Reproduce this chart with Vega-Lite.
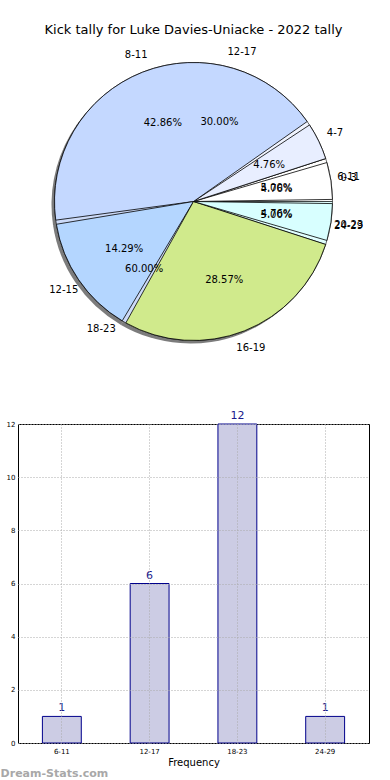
{
  "$schema": "https://vega.github.io/schema/vega-lite/v6.json",
  "padding": {"left": -11, "right": 0, "top": 24, "bottom": 0},
  "bounds": "flush",
  "spacing": 72,
  "background": "white",
  "config": {"font": "DejaVu Sans", "view": {"stroke": null}},
  "title": {"text": "Dream-Stats.com", "orient": "bottom", "anchor": "start", "color": "#a8a8a8", "fontSize": 11, "fontWeight": "bold", "offset": 0, "dx": 11},
  "datasets": {
    "pie1": [
      {"label": "0-3", "pct": 4.76, "k": 1, "txt": "4.76%"},
      {"label": "4-7", "pct": 4.76, "k": 2, "txt": "4.76%"},
      {"label": "8-11", "pct": 42.86, "k": 3, "txt": "42.86%"},
      {"label": "12-15", "pct": 14.29, "k": 4, "txt": "14.29%"},
      {"label": "16-19", "pct": 28.57, "k": 5, "txt": "28.57%"},
      {"label": "20-23", "pct": 4.76, "k": 6, "txt": "4.76%"}
    ],
    "pie2": [
      {"label": "6-11", "pct": 5.0, "k": 1, "txt": "5.00%"},
      {"label": "12-17", "pct": 30.0, "k": 2, "txt": "30.00%"},
      {"label": "18-23", "pct": 60.0, "k": 3, "txt": "60.00%"},
      {"label": "24-29", "pct": 5.0, "k": 4, "txt": "5.00%"}
    ],
    "bars": [
      {"interval": "6-11", "count": 1},
      {"interval": "12-17", "count": 6},
      {"interval": "18-23", "count": 12},
      {"interval": "24-29", "count": 1}
    ]
  },
  "vconcat": [
    {
      "width": 351,
      "height": 301,
      "title": {"text": "Kick tally for Luke Davies-Uniacke - 2022 tally", "fontSize": 13, "fontWeight": "normal", "offset": 10, "anchor": "middle", "color": "#000"},
      "view": {"stroke": null},
      "encoding": {
        "theta": {"field": "pct", "type": "quantitative", "stack": true, "scale": {"range": [1.5708, -4.7124]}},
        "order": {"field": "k", "type": "quantitative", "sort": "ascending"}
      },
      "layer": [
        {
          "data": {"name": "pie1"},
          "mark": {"type": "arc", "radius": 139, "fill": "#444", "opacity": 0.7, "xOffset": -3, "yOffset": 3}
        },
        {
          "data": {"name": "pie2"},
          "mark": {"type": "arc", "radius": 139, "stroke": "#000", "strokeWidth": 0.6},
          "encoding": {
            "color": {"field": "label", "type": "nominal", "legend": null,
              "scale": {"domain": ["0-3", "4-7", "8-11", "12-15", "16-19", "20-23", "6-11", "12-17", "18-23", "24-29"],
                        "range": ["#ffffff", "#e8eeff", "#c4d8ff", "#b4d6ff", "#d0ea8c", "#d8ffff", "#ffffff", "#f0f4ff", "#ccdaf8", "#e0ffff"]}}
          }
        },
        {
          "data": {"name": "pie1"},
          "mark": {"type": "arc", "radius": 139, "padAngle": 0.03, "stroke": "#000", "strokeWidth": 0.8},
          "encoding": {
            "color": {"field": "label", "type": "nominal", "legend": null}
          }
        },
        {
          "data": {"name": "pie1"},
          "mark": {"type": "text", "radius": 84, "fontSize": 10, "color": "#000"},
          "encoding": {"text": {"field": "txt"}}
        },
        {
          "data": {"name": "pie1"},
          "mark": {"type": "text", "radius": 157, "fontSize": 10, "color": "#000"},
          "encoding": {"text": {"field": "label"}}
        },
        {
          "data": {"name": "pie2"},
          "mark": {"type": "text", "radius": 84, "fontSize": 10, "color": "#000"},
          "encoding": {"text": {"field": "txt"}}
        },
        {
          "data": {"name": "pie2"},
          "mark": {"type": "text", "radius": 157, "fontSize": 10, "color": "#000"},
          "encoding": {"text": {"field": "label"}}
        }
      ]
    },
    {
      "width": 351,
      "height": 319,
      "data": {"name": "bars"},
      "view": {"stroke": "#000", "strokeWidth": 1},
      "encoding": {
        "x": {"field": "interval", "type": "nominal", "sort": null,
          "scale": {"paddingInner": 0.557, "paddingOuter": 0.278},
          "axis": {"title": "Frequency", "labelAngle": 0, "labelFontSize": 7, "labelColor": "#000", "labelPadding": 4,
                   "ticks": false, "domain": false, "grid": true, "gridDash": [1, 2], "gridColor": "#aaaaaa", "bandPosition": 0.5,
                   "titleFontSize": 10, "titleFontWeight": "normal", "titleColor": "#000", "titlePadding": 3, "zindex": 1}},
        "y": {"field": "count", "type": "quantitative",
          "scale": {"domain": [0, 12]},
          "axis": {"title": "Stat Interval", "values": [0, 2, 4, 6, 8, 10, 12], "format": "d", "labelFontSize": 7, "labelColor": "#000", "labelPadding": 3,
                   "ticks": false, "domain": false, "grid": true, "gridDash": [1, 2], "gridColor": "#aaaaaa",
                   "titleFontSize": 10, "titleFontWeight": "normal", "titleColor": "#000", "titlePadding": 6, "zindex": 1}}
      },
      "layer": [
        {"mark": {"type": "bar", "fill": "#ccccE4", "stroke": "#00008b", "strokeWidth": 1}},
        {"mark": {"type": "text", "baseline": "bottom", "dy": -3, "fontSize": 11, "color": "#1a1a8c"},
         "encoding": {"text": {"field": "count", "type": "quantitative"}}}
      ]
    }
  ]
}
